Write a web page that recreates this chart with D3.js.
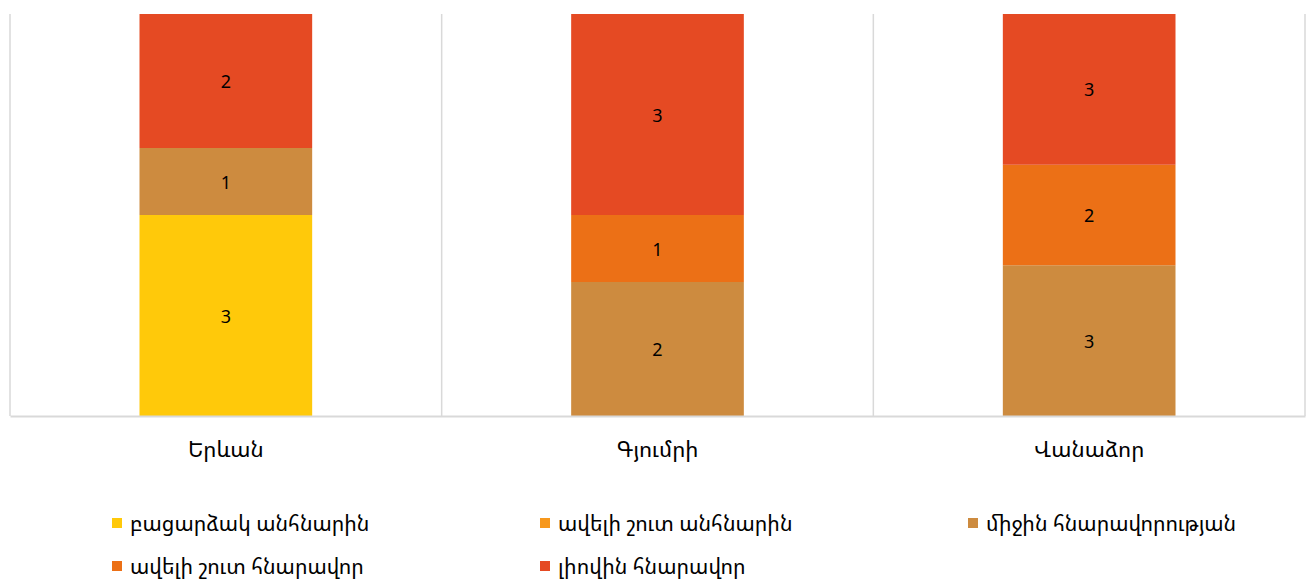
<!DOCTYPE html>
<html><head><meta charset="utf-8">
<script src="https://cdn.jsdelivr.net/npm/d3@7/dist/d3.min.js"></script>
<style>
body{margin:0;background:#fff;}
svg text{font-family:"Noto Sans Armenian","DejaVu Sans","Noto Sans",sans-serif;fill:#000;}
</style></head><body>
<svg id="c" width="1311" height="580"></svg>
<script>
const categories = ["Երևան", "Գյումրի", "Վանաձոր"];
const seriesNames = ["բացարձակ անհնարին", "ավելի շուտ անհնարին", "միջին հնարավորության", "ավելի շուտ հնարավոր", "լիովին հնարավոր"];
const seriesColors = ["#FFC90A", "#F7981D", "#CD8B3F", "#EC7016", "#E54A23"];
const absImpossible = [3, 0, 0];
const ratherImpossible = [0, 0, 0];
const medium = [1, 2, 3];
const ratherPossible = [0, 1, 2];
const fullyPossible = [2, 3, 3];

(function () {
const seriesValues = [absImpossible, ratherImpossible, medium, ratherPossible, fullyPossible];
const rows = categories.map((c, i) => {
  const r = {cat: c};
  seriesNames.forEach((s, j) => r[s] = seriesValues[j][i]);
  return r;
});
const stack = d3.stack().keys(seriesNames).offset(d3.stackOffsetExpand);
const layers = stack(rows);

const svg = d3.select("#c");
const mLeft = 10, mRight = 1305, mTop = 14, mBottom = 416;
const x = d3.scaleBand().domain(categories).range([mLeft, mRight]).paddingInner(0).paddingOuter(0);
const y = d3.scaleLinear().domain([0, 1]).range([mBottom, mTop]);
const color = d3.scaleOrdinal().domain(seriesNames).range(seriesColors);

const seps = categories.map(c => x(c)).concat([mRight]);
svg.append("g").selectAll("line").data(seps).join("line")
  .attr("x1", d => d).attr("x2", d => d).attr("y1", mTop).attr("y2", mBottom)
  .attr("stroke", "#d9d9d9").attr("stroke-width", 1.5);

const barW = x.bandwidth() * 0.4;
const g = svg.append("g");
layers.forEach(layer => {
  layer.forEach((d, i) => {
    const v = seriesValues[layer.index][i];
    if (!v) return;
    const cx = x(categories[i]) + x.bandwidth() / 2;
    g.append("rect")
      .attr("x", cx - barW / 2).attr("width", barW)
      .attr("y", y(d[1])).attr("height", y(d[0]) - y(d[1]))
      .attr("fill", color(layer.key));
    g.append("text")
      .attr("x", cx).attr("y", (y(d[0]) + y(d[1])) / 2)
      .attr("text-anchor", "middle").attr("dominant-baseline", "central")
      .attr("font-size", 18).text(v);
  });
});

const xAxis = d3.axisBottom(x).tickSize(0).tickPadding(0);
const ax = svg.append("g").attr("transform", `translate(0,${mBottom})`).call(xAxis);
ax.select(".domain").attr("stroke", "#d9d9d9").attr("stroke-width", 2);
ax.selectAll("text").attr("font-size", 22).attr("dy", null).attr("y", 32)
  .attr("dominant-baseline", "central").attr("fill", "#000")
  .style("font-family", '"Noto Sans Armenian","DejaVu Sans","Noto Sans",sans-serif');

const legCols = [112, 540, 968], legRows = [523, 566];
const leg = svg.append("g");
seriesNames.forEach((s, i) => {
  const lx = legCols[i % 3], ly = legRows[Math.floor(i / 3)];
  leg.append("rect").attr("x", lx).attr("y", ly - 5).attr("width", 10).attr("height", 10).attr("fill", color(s));
  leg.append("text").attr("x", lx + 18).attr("y", ly).attr("dominant-baseline", "central")
    .attr("font-size", 21).text(s);
});
})();
</script></body></html>
